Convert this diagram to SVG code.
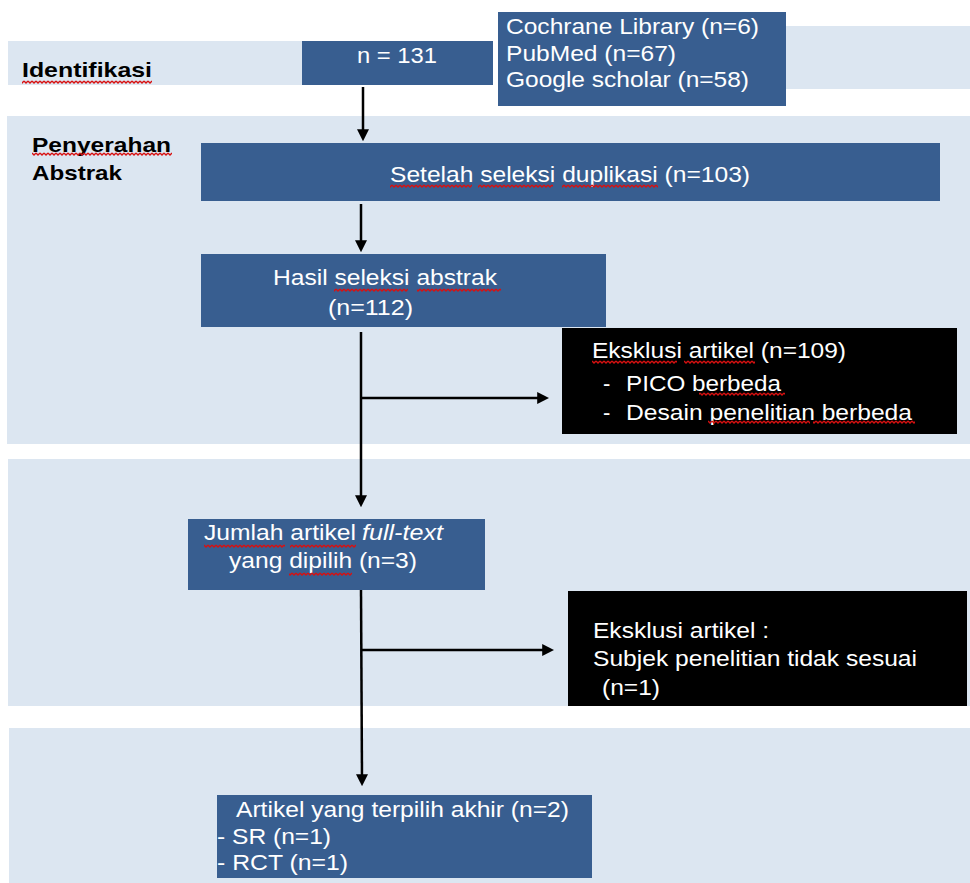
<svg xmlns="http://www.w3.org/2000/svg" width="970" height="883" viewBox="0 0 970 883">
<defs>
<style>
.band{fill:#DCE6F1}
.box{fill:#385E90}
.blk{fill:#000000}
.t{font-family:"Liberation Sans",Arial,sans-serif;font-size:22px;fill:#FFFFFF}
.lbl{font-family:"Liberation Sans",Arial,sans-serif;font-size:21px;font-weight:bold;fill:#000000}
.it{font-style:italic}
.sq{fill:url(#sq)}
.c{stroke:#000;stroke-width:2.5;fill:none;marker-end:url(#ah)}
</style>
<pattern id="sq" width="4" height="4" patternUnits="userSpaceOnUse">
<path d="M0,1 L2,3 L4,1" stroke="#D81010" stroke-width="1.3" fill="none"/>
</pattern>
<marker id="ah" viewBox="0 0 10 10" refX="4" refY="5" markerWidth="12" markerHeight="12" markerUnits="userSpaceOnUse" orient="auto">
<path d="M0,0 L10,5 L0,10 z" fill="#000"/>
</marker>
</defs>
<rect width="970" height="883" fill="#FFFFFF"/>
<g id="bands">
<rect class="band" x="8" y="41" width="294" height="44"/>
<rect class="band" x="786" y="26" width="184" height="63"/>
<rect class="band" x="7" y="116" width="963" height="328"/>
<rect class="band" x="8" y="459" width="962" height="247"/>
<rect class="band" x="9" y="728" width="961" height="155"/>
</g>
<g id="labels">
<text class="lbl" x="22" y="77" textLength="130" lengthAdjust="spacingAndGlyphs">Identifikasi</text>
<rect class="sq" x="22" y="80" width="130" height="4"/>
<text class="lbl" x="32" y="152" textLength="139" lengthAdjust="spacingAndGlyphs">Penyerahan</text>
<rect class="sq" x="32" y="152" width="140" height="4"/>
<text class="lbl" x="32" y="180" textLength="90" lengthAdjust="spacingAndGlyphs">Abstrak</text>
</g>
<g id="n131">
<rect class="box" x="302" y="41" width="191" height="44"/>
<text class="t" x="357" y="63" textLength="80" lengthAdjust="spacingAndGlyphs">n = 131</text>
</g>
<g id="sources">
<rect class="box" x="498" y="12" width="288" height="94"/>
<text class="t" x="506" y="34" textLength="253" lengthAdjust="spacingAndGlyphs">Cochrane Library (n=6)</text>
<text class="t" x="506" y="61" textLength="170" lengthAdjust="spacingAndGlyphs">PubMed (n=67)</text>
<text class="t" x="506" y="87" textLength="243" lengthAdjust="spacingAndGlyphs">Google scholar (n=58)</text>
</g>
<g id="duplikasi">
<rect class="box" x="201" y="143" width="739" height="58"/>
<text class="t" x="390" y="182" textLength="360" lengthAdjust="spacingAndGlyphs">Setelah seleksi duplikasi (n=103)</text>
<rect class="sq" x="390" y="184" width="82" height="4"/>
<rect class="sq" x="478" y="184" width="75" height="4"/>
<rect class="sq" x="562" y="184" width="96" height="4"/>
</g>
<g id="abstrak">
<rect class="box" x="201" y="254" width="405" height="73"/>
<text class="t" x="273" y="285" textLength="224" lengthAdjust="spacingAndGlyphs">Hasil seleksi abstrak</text>
<rect class="sq" x="334" y="288" width="74" height="4"/>
<rect class="sq" x="417" y="288" width="84" height="4"/>
<text class="t" x="328" y="315" textLength="85" lengthAdjust="spacingAndGlyphs">(n=112)</text>
</g>
<g id="eksklusi1">
<rect class="blk" x="562" y="328" width="395" height="106"/>
<text class="t" x="592" y="358" textLength="254" lengthAdjust="spacingAndGlyphs">Eksklusi artikel (n=109)</text>
<rect class="sq" x="592" y="360" width="85" height="4"/>
<rect class="sq" x="684" y="360" width="71" height="4"/>
<text class="t" x="603" y="391">-</text>
<text class="t" x="626" y="391" textLength="155" lengthAdjust="spacingAndGlyphs">PICO berbeda</text>
<rect class="sq" x="699" y="392" width="86" height="4"/>
<text class="t" x="603" y="420">-</text>
<text class="t" x="626" y="420" textLength="286" lengthAdjust="spacingAndGlyphs">Desain penelitian berbeda</text>
<rect class="sq" x="708" y="420" width="102" height="4"/>
<rect class="sq" x="813" y="420" width="102" height="4"/>
</g>
<g id="fulltext">
<rect class="box" x="188" y="519" width="297" height="71"/>
<text class="t" x="204" y="540" textLength="152" lengthAdjust="spacingAndGlyphs">Jumlah artikel</text>
<text class="t it" x="362" y="540" textLength="81" lengthAdjust="spacingAndGlyphs">full-text</text>
<rect class="sq" x="204" y="544" width="81" height="4"/>
<rect class="sq" x="290" y="544" width="66" height="4"/>
<text class="t" x="229" y="568" textLength="188" lengthAdjust="spacingAndGlyphs">yang dipilih  (n=3)</text>
<rect class="sq" x="289" y="572" width="63" height="4"/>
</g>
<g id="eksklusi2">
<rect class="blk" x="568" y="591" width="399" height="115"/>
<text class="t" x="593" y="638" textLength="176" lengthAdjust="spacingAndGlyphs">Eksklusi artikel :</text>
<text class="t" x="593" y="666" textLength="324" lengthAdjust="spacingAndGlyphs">Subjek penelitian tidak sesuai</text>
<text class="t" x="602" y="695" textLength="58" lengthAdjust="spacingAndGlyphs">(n=1)</text>
</g>
<g id="akhir">
<rect class="box" x="217" y="795" width="375" height="83"/>
<text class="t" x="236" y="817" textLength="333" lengthAdjust="spacingAndGlyphs">Artikel yang terpilih akhir (n=2)</text>
<text class="t" x="217" y="844" textLength="114" lengthAdjust="spacingAndGlyphs">- SR (n=1)</text>
<text class="t" x="217" y="870" textLength="131" lengthAdjust="spacingAndGlyphs">- RCT (n=1)</text>
</g>
<g id="connectors">
<line class="c" x1="363" y1="87" x2="363" y2="134"/>
<line class="c" x1="361" y1="204" x2="361" y2="245"/>
<line class="c" x1="361" y1="332" x2="361" y2="500"/>
<line class="c" x1="361" y1="398" x2="542" y2="398"/>
<line class="c" x1="361" y1="590" x2="362" y2="779"/>
<line class="c" x1="361" y1="650" x2="547" y2="650"/>
</g>
</svg>
